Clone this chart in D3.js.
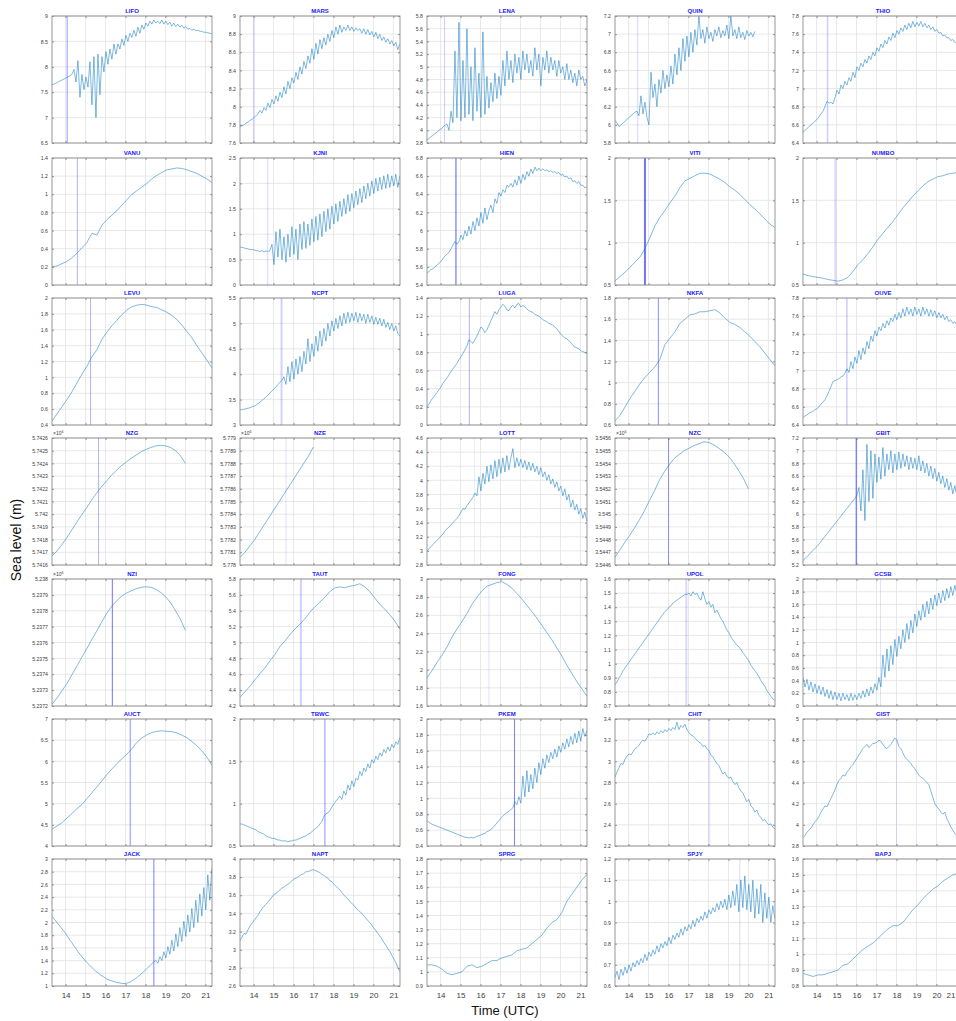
<!DOCTYPE html>
<html>
<head>
<meta charset="utf-8">
<script src="https://cdn.jsdelivr.net/npm/d3@7"></script>
<style>
  body { margin: 0; background: #fff; }
  svg { display: block; font-family: "Liberation Sans", Arial, sans-serif; }
</style>
</head>
<body>
<svg id="chart" width="956" height="1021"></svg>
<script>
/* Time axis (UTC hours) */
const startTime = 13.32;
const timeDomain = [13.32, 21.33];
const timeTicks = [14, 15, 16, 17, 18, 19, 20, 21];

/* Stations, in panel order (5 per row) */
const stations = [
  'LIFO', 'MARS', 'LENA', 'QUIN', 'THIO',
  'VANU', 'KJNI', 'HIEN', 'VITI', 'NUMBO',
  'LEVU', 'NCPT', 'LUGA', 'NKFA', 'OUVE',
  'NZG', 'NZE', 'LOTT', 'NZC', 'GBIT',
  'NZI', 'TAUT', 'FONG', 'UPOL', 'GCSB',
  'AUCT', 'TBWC', 'PKEM', 'CHIT', 'GIST',
  'JACK', 'NAPT', 'SPRG', 'SPJY', 'BAPJ'
];

/* Last sample time of each record */
const endTimes = [
  21.32, 21.32, 21.32, 20.32, 21.32,
  21.32, 21.32, 21.32, 21.32, 21.32,
  21.32, 21.32, 21.32, 21.32, 21.32,
  20.0, 17.0, 21.32, 20.0, 21.32,
  20.0, 21.32, 21.32, 21.32, 21.32,
  21.32, 21.32, 21.32, 21.32, 21.32,
  21.32, 21.32, 21.32, 21.32, 21.32
];

/* Y limits and tick spacing of each panel */
const yDomains = [
  [6.5, 9], [7.6, 9], [3.8, 5.8], [5.8, 7.2], [6.4, 7.8],
  [0, 1.4], [0, 2.5], [5.4, 6.8], [0.5, 2], [0.5, 2],
  [0.4, 2], [3, 5.5], [0, 1.4], [0.6, 1.8], [6.4, 7.8],
  [5741600, 5742600], [5778000, 5779000], [2.8, 4.6], [3544600, 3545600], [5.2, 7.2],
  [5237200, 5238000], [4.2, 5.8], [1.6, 3], [0.7, 1.6], [0, 2],
  [4, 7], [0.5, 2], [0.4, 2], [2.2, 3.4], [3.8, 5],
  [1, 3], [2.6, 4], [0.9, 1.8], [0.6, 1.2], [0.8, 1.6]
];
const yTickSteps = [
  0.5, 0.2, 0.2, 0.2, 0.2,
  0.2, 0.5, 0.2, 0.5, 0.5,
  0.2, 0.5, 0.2, 0.2, 0.2,
  100, 100, 0.2, 100, 0.2,
  100, 0.2, 0.2, 0.1, 0.2,
  0.5, 0.5, 0.2, 0.2, 0.2,
  0.2, 0.2, 0.1, 0.1, 0.1
];
const exponentStations = ['NZG', 'NZE', 'NZC', 'NZI'];

/* Arrival marker of each station (null = none) */
const markerTimes = [
  14.08, 14.02, 14.2, 14.45, 14.55,
  14.59, 14.7, 14.77, 14.82, 14.94,
  15.25, 15.4, 15.44, 15.49, 15.52,
  15.65, 15.62, 15.7, 16.0, 15.99,
  16.34, 16.37, 16.42, 16.89, 17.2,
  17.24, 17.57, 17.7, 18.04, 18.0,
  18.42, null, null, 19.57, null
];
const markerAlphas = [
  0.4, 0.15, 0.2, 0.12, 0.2,
  0.3, 0.12, 0.65, 0.55, 0.15,
  0.3, 0.18, 0.3, 0.45, 0.3,
  0.3, 0.12, 0.08, 0.4, 0.45,
  0.55, 0.18, 0.12, 0.15, 0.12,
  0.3, 0.3, 0.5, 0.1, 0.1,
  0.5, 0, 0, 0.15, 0
];
const markerWidths = [
  1, 1.5, 1, 1.5, 1.5,
  1, 1.5, 1, 2, 2,
  1, 2, 1, 1, 1,
  1, 1, 1, 1, 1.5,
  1, 2, 1, 2, 1,
  1.5, 1.5, 1, 2, 1,
  1, 1, 1, 1, 1
];

/* Sea level records (m), evenly spaced from startTime to endTime */
const LIFO = [7.65,7.66,7.68,7.70,7.72,7.74,7.76,7.78,7.80,7.82,
  7.85,7.95,7.70,8.12,7.40,7.85,7.55,7.80,7.60,8.10,
  7.25,8.20,7.00,8.25,7.45,8.20,7.90,8.30,8.05,8.35,
  8.15,8.45,8.25,8.45,8.35,8.55,8.42,8.62,8.50,8.66,
  8.58,8.72,8.60,8.78,8.66,8.82,8.74,8.86,8.80,8.90,
  8.84,8.92,8.86,8.90,8.85,8.92,8.84,8.90,8.83,8.88,
  8.80,8.86,8.79,8.84,8.78,8.82,8.76,8.79,8.74,8.76,
  8.72,8.74,8.71,8.72,8.70,8.70,8.68,8.68,8.67,8.66,8.65];
const MARS = [7.78,7.79,7.80,7.82,7.83,7.85,7.86,7.88,7.90,7.92,
  7.96,7.93,7.99,7.96,8.04,7.99,8.08,8.03,8.12,8.06,
  8.16,8.10,8.22,8.14,8.28,8.20,8.32,8.26,8.38,8.30,
  8.44,8.36,8.50,8.42,8.56,8.48,8.64,8.52,8.70,8.58,
  8.74,8.64,8.76,8.68,8.80,8.72,8.84,8.76,8.88,8.80,
  8.90,8.82,8.88,8.84,8.90,8.84,8.88,8.83,8.87,8.84,
  8.86,8.81,8.86,8.80,8.85,8.79,8.83,8.77,8.82,8.75,
  8.80,8.73,8.77,8.71,8.75,8.69,8.73,8.67,8.71,8.63,8.69];
const LENA = [3.85,3.87,3.90,3.92,3.95,3.97,4.00,4.02,4.05,4.08,
  4.10,4.00,4.30,4.12,5.25,4.20,5.70,4.15,5.10,4.20,
  5.60,4.25,5.00,4.15,5.30,4.30,4.90,4.20,5.55,4.25,
  4.85,4.35,4.75,4.45,4.90,4.50,4.85,4.55,5.10,4.70,
  5.25,4.80,5.10,4.75,5.20,4.90,5.15,4.80,5.25,4.95,
  5.20,4.90,5.10,4.85,5.30,4.95,5.20,4.70,5.15,4.95,
  5.25,4.90,5.15,4.95,5.10,4.85,5.10,4.90,5.00,4.80,
  5.05,4.80,4.95,4.75,4.90,4.70,4.95,4.80,4.85,4.70,4.78];
const QUIN = [6.05,6.02,5.98,6.00,6.02,6.04,6.06,6.08,6.10,6.12,
  6.14,6.15,6.10,6.32,6.12,6.25,6.08,6.00,6.58,6.30,
  6.45,6.20,6.50,6.35,6.60,6.40,6.55,6.42,6.65,6.45,
  6.78,6.55,6.85,6.60,6.95,6.70,6.98,6.75,7.02,6.80,
  7.05,6.88,7.20,6.95,7.05,6.90,7.08,6.95,7.02,6.92,
  7.05,6.98,7.08,6.96,7.04,6.98,7.10,6.95,7.20,6.98,
  7.05,6.95,7.08,6.96,7.02,6.94,7.04,6.98,7.02,6.97,7.03];
const THIO = [6.52,6.54,6.56,6.58,6.60,6.62,6.64,6.66,6.69,6.72,
  6.75,6.80,6.86,6.84,6.85,6.83,6.90,6.98,6.94,7.04,
  7.00,7.08,7.04,7.12,7.08,7.18,7.12,7.24,7.20,7.28,
  7.24,7.32,7.28,7.36,7.32,7.40,7.36,7.45,7.41,7.49,
  7.45,7.53,7.49,7.57,7.53,7.61,7.56,7.64,7.60,7.67,
  7.63,7.70,7.65,7.72,7.67,7.74,7.68,7.73,7.69,7.74,
  7.68,7.72,7.67,7.70,7.65,7.68,7.63,7.65,7.61,7.62,
  7.58,7.59,7.56,7.56,7.53,7.54,7.51,7.51,7.49,7.49,7.47];

const VANU = [0.20,0.21,0.235,0.26,0.30,0.35,0.41,0.47,0.57,0.55,
  0.66,0.72,0.77,0.82,0.88,0.94,1.00,1.04,1.08,1.12,
  1.17,1.21,1.24,1.27,1.28,1.29,1.285,1.27,1.25,1.23,1.20,1.17,1.13];
const KJNI = [0.75,0.74,0.73,0.72,0.71,0.70,0.70,0.69,0.68,0.67,
  0.66,0.68,0.65,0.67,0.66,0.68,0.80,0.40,1.05,0.55,
  1.10,0.50,0.95,0.45,1.00,0.55,1.15,0.60,1.10,0.50,
  1.20,0.70,1.25,0.72,1.20,0.78,1.30,0.85,1.35,0.88,
  1.40,0.95,1.45,1.05,1.50,1.10,1.55,1.20,1.60,1.25,
  1.65,1.35,1.70,1.40,1.78,1.45,1.80,1.52,1.85,1.58,
  1.90,1.62,1.95,1.70,2.00,1.75,2.05,1.80,2.10,1.85,
  2.12,1.88,2.15,1.90,2.18,1.92,2.15,1.95,2.18,1.92,2.15];
const HIEN = [5.53,5.55,5.57,5.58,5.60,5.62,5.64,5.66,5.69,5.72,
  5.74,5.76,5.80,5.84,5.88,5.85,5.88,5.95,5.90,6.00,
  5.94,6.05,5.96,6.10,6.00,6.14,6.05,6.20,6.08,6.25,
  6.12,6.22,6.28,6.20,6.35,6.30,6.42,6.38,6.45,6.42,
  6.50,6.48,6.52,6.48,6.56,6.50,6.60,6.52,6.62,6.56,
  6.65,6.60,6.68,6.63,6.70,6.66,6.69,6.66,6.68,6.66,
  6.67,6.65,6.66,6.64,6.65,6.63,6.64,6.61,6.62,6.59,
  6.60,6.57,6.58,6.54,6.55,6.52,6.54,6.50,6.50,6.47,6.48];
const VITI = [0.55,0.60,0.65,0.71,0.77,0.83,0.93,1.06,1.20,1.30,
  1.38,1.47,1.55,1.65,1.73,1.76,1.79,1.82,1.82,1.81,
  1.78,1.75,1.71,1.66,1.62,1.57,1.51,1.45,1.40,1.34,1.28,1.22,1.18];
const NUMBO = [0.63,0.61,0.60,0.59,0.58,0.565,0.555,0.545,0.56,0.59,
  0.66,0.74,0.80,0.87,0.95,1.04,1.11,1.18,1.25,1.33,
  1.41,1.48,1.55,1.61,1.67,1.72,1.75,1.78,1.79,1.81,1.82,1.83,1.83];

const LEVU = [0.45,0.54,0.63,0.72,0.82,0.93,1.04,1.14,1.26,1.35,
  1.48,1.57,1.65,1.72,1.79,1.85,1.89,1.91,1.92,1.91,
  1.89,1.88,1.85,1.82,1.78,1.73,1.66,1.58,1.50,1.40,1.31,1.22,1.12];
const NCPT = [3.30,3.30,3.31,3.32,3.33,3.34,3.36,3.37,3.39,3.42,
  3.45,3.48,3.52,3.55,3.59,3.63,3.67,3.71,3.75,3.80,
  3.84,3.88,3.95,3.80,4.15,3.85,4.25,3.90,4.30,4.00,
  4.35,4.05,4.45,4.20,4.70,4.25,4.60,4.35,4.75,4.45,
  4.85,4.55,4.90,4.65,5.00,4.75,5.05,4.85,5.10,4.90,
  5.15,4.95,5.20,5.00,5.22,5.02,5.20,5.05,5.22,5.02,
  5.20,5.05,5.18,5.00,5.18,5.02,5.15,4.98,5.12,4.98,
  5.10,4.95,5.08,4.92,5.02,4.88,5.00,4.85,4.95,4.80,4.75];
const LUGA = [0.20,0.23,0.27,0.30,0.33,0.36,0.39,0.42,0.46,0.49,
  0.52,0.55,0.59,0.62,0.65,0.68,0.72,0.75,0.79,0.83,
  0.87,0.94,0.92,0.90,0.94,0.98,1.03,1.08,1.06,1.02,
  1.05,1.10,1.15,1.20,1.25,1.22,1.27,1.30,1.33,1.31,
  1.27,1.26,1.30,1.32,1.29,1.33,1.34,1.30,1.32,1.30,
  1.28,1.26,1.25,1.24,1.22,1.21,1.20,1.18,1.16,1.15,
  1.14,1.12,1.11,1.10,1.08,1.06,1.03,1.00,0.98,0.96,
  0.95,0.93,0.91,0.88,0.86,0.85,0.84,0.82,0.81,0.80,0.80];
const NKFA = [0.64,0.69,0.77,0.85,0.92,0.99,1.05,1.10,1.15,1.22,
  1.36,1.42,1.48,1.56,1.60,1.64,1.65,1.67,1.67,1.68,
  1.69,1.66,1.61,1.57,1.55,1.52,1.48,1.44,1.39,1.34,1.28,1.22,1.16];
const OUVE = [6.48,6.50,6.51,6.53,6.54,6.55,6.57,6.58,6.60,6.63,
  6.65,6.68,6.72,6.77,6.82,6.88,6.89,6.90,6.91,6.93,
  6.94,6.97,7.02,6.98,7.10,7.02,7.15,7.08,7.22,7.12,
  7.25,7.18,7.32,7.24,7.38,7.32,7.44,7.38,7.48,7.44,
  7.52,7.47,7.55,7.50,7.58,7.54,7.62,7.56,7.64,7.58,
  7.68,7.60,7.70,7.62,7.68,7.60,7.70,7.62,7.68,7.60,
  7.70,7.62,7.68,7.60,7.67,7.60,7.66,7.58,7.64,7.58,
  7.62,7.56,7.60,7.54,7.56,7.52,7.54,7.50,7.50,7.48,7.48];

const NZG = [5741670,5741710,5741760,5741815,5741875,5741935,5741995,5742050,5742110,5742165,
  5742215,5742260,5742305,5742345,5742380,5742410,5742440,5742465,5742490,5742510,
  5742525,5742538,5742542,5742538,5742525,5742500,5742460,5742400];
const NZE = [5778060,5778100,5778150,5778200,5778260,5778320,5778380,5778440,
  5778500,5778560,5778620,5778680,5778740,5778800,5778860,5778930];
const LOTT = [3.00,3.03,3.06,3.09,3.12,3.15,3.18,3.21,3.24,3.28,
  3.31,3.34,3.37,3.40,3.43,3.46,3.50,3.55,3.60,3.59,
  3.64,3.68,3.72,3.76,3.82,3.78,4.05,3.85,4.10,3.95,
  4.20,3.98,4.22,4.02,4.28,4.05,4.30,4.10,4.32,4.12,
  4.35,4.15,4.32,4.45,4.18,4.32,4.20,4.30,4.18,4.28,
  4.15,4.26,4.14,4.24,4.12,4.20,4.08,4.18,4.05,4.12,
  4.00,4.08,3.95,4.02,3.90,3.98,3.85,3.92,3.78,3.88,
  3.72,3.80,3.62,3.72,3.58,3.66,3.52,3.60,3.46,3.55,3.42];
const NZC = [3544660,3544720,3544780,3544835,3544895,3544960,3545030,3545110,3545185,3545270,
  3545335,3545390,3545440,3545470,3545500,3545520,3545540,3545555,3545570,3545565,
  3545545,3545520,3545490,3545455,3545405,3545345,3545280,3545200];
const GBIT = [5.27,5.30,5.33,5.36,5.40,5.43,5.46,5.49,5.53,5.57,
  5.61,5.65,5.69,5.73,5.77,5.81,5.85,5.89,5.93,5.97,
  6.01,6.05,6.09,6.13,6.17,6.21,6.25,6.30,6.42,6.05,
  6.70,5.90,7.10,6.20,7.00,6.25,6.95,6.50,6.90,6.55,
  7.05,6.60,6.95,6.70,7.00,6.65,6.95,6.70,6.98,6.72,
  6.95,6.75,6.92,6.70,6.90,6.72,6.88,6.70,6.92,6.68,
  6.84,6.65,6.80,6.60,6.76,6.56,6.72,6.52,6.66,6.48,
  6.60,6.42,6.56,6.38,6.50,6.32,6.45,6.30,6.40,6.25,6.30];

const NZI = [5237210,5237250,5237295,5237340,5237395,5237450,5237505,5237560,5237615,5237670,
  5237725,5237780,5237825,5237860,5237890,5237910,5237925,5237938,5237947,5237951,
  5237948,5237935,5237915,5237888,5237850,5237800,5237745,5237676];
const TAUT = [4.31,4.38,4.45,4.53,4.61,4.68,4.77,4.85,4.95,5.02,
  5.10,5.17,5.23,5.30,5.38,5.45,5.51,5.57,5.64,5.69,
  5.70,5.69,5.71,5.72,5.74,5.70,5.64,5.56,5.48,5.42,5.35,5.27,5.17];
const FONG = [1.91,1.99,2.08,2.16,2.25,2.36,2.45,2.53,2.62,2.72,
  2.80,2.87,2.92,2.94,2.96,2.97,2.94,2.90,2.84,2.78,
  2.71,2.64,2.57,2.49,2.41,2.33,2.24,2.15,2.05,1.96,1.87,1.79,1.71];
const UPOL = [0.85,0.87,0.90,0.92,0.95,0.97,0.99,1.01,1.03,1.05,
  1.07,1.09,1.11,1.13,1.15,1.17,1.19,1.21,1.23,1.25,
  1.27,1.29,1.31,1.33,1.35,1.37,1.38,1.40,1.41,1.43,
  1.44,1.45,1.46,1.47,1.48,1.49,1.49,1.50,1.48,1.51,
  1.49,1.50,1.47,1.45,1.51,1.46,1.42,1.44,1.40,1.42,
  1.36,1.38,1.35,1.32,1.30,1.27,1.24,1.22,1.19,1.17,
  1.15,1.13,1.12,1.10,1.08,1.06,1.04,1.02,0.99,0.97,
  0.95,0.93,0.91,0.88,0.86,0.84,0.81,0.79,0.77,0.75,0.74];
const GCSB = [0.45,0.30,0.42,0.25,0.38,0.22,0.35,0.20,0.32,0.18,
  0.30,0.15,0.26,0.12,0.24,0.10,0.22,0.10,0.20,0.08,
  0.20,0.10,0.18,0.08,0.20,0.09,0.18,0.10,0.20,0.12,
  0.24,0.14,0.27,0.16,0.30,0.20,0.35,0.25,0.45,0.30,
  0.80,0.45,0.90,0.55,0.95,0.65,1.05,0.78,1.10,0.90,
  1.20,1.00,1.30,1.05,1.35,1.15,1.45,1.25,1.50,1.35,
  1.60,1.40,1.65,1.45,1.70,1.52,1.75,1.58,1.78,1.62,
  1.82,1.66,1.85,1.70,1.88,1.74,1.90,1.78,1.92,1.80,1.90];

const AUCT = [4.40,4.47,4.55,4.66,4.77,4.88,4.98,5.12,5.26,5.40,
  5.54,5.69,5.82,5.95,6.06,6.17,6.30,6.45,6.55,6.63,
  6.68,6.71,6.72,6.71,6.70,6.67,6.62,6.56,6.47,6.37,6.25,6.10,5.91];
const TBWC = [0.76,0.76,0.75,0.74,0.73,0.72,0.71,0.70,0.69,0.67,
  0.66,0.65,0.64,0.62,0.61,0.60,0.59,0.59,0.58,0.57,
  0.57,0.56,0.56,0.56,0.55,0.56,0.56,0.57,0.57,0.58,
  0.59,0.60,0.61,0.62,0.64,0.65,0.67,0.69,0.71,0.73,
  0.76,0.79,0.85,0.88,0.89,0.92,0.96,1.00,1.03,1.06,
  1.09,1.05,1.15,1.10,1.22,1.16,1.27,1.20,1.30,1.28,
  1.38,1.33,1.42,1.38,1.47,1.42,1.52,1.48,1.56,1.52,
  1.60,1.56,1.64,1.60,1.67,1.62,1.70,1.66,1.73,1.70,1.78];
const PKEM = [0.72,0.70,0.68,0.67,0.66,0.65,0.64,0.63,0.62,0.61,
  0.60,0.59,0.58,0.57,0.56,0.55,0.54,0.53,0.52,0.51,
  0.51,0.50,0.51,0.50,0.51,0.52,0.53,0.54,0.55,0.56,
  0.58,0.59,0.61,0.63,0.66,0.69,0.72,0.75,0.78,0.80,
  0.82,0.84,0.86,0.88,0.96,0.92,1.02,0.94,1.28,1.02,
  1.35,1.08,1.30,1.12,1.38,1.20,1.45,1.30,1.50,1.38,
  1.55,1.45,1.58,1.50,1.62,1.52,1.66,1.58,1.70,1.62,
  1.75,1.65,1.78,1.68,1.82,1.70,1.85,1.72,1.88,1.78,1.85];
const CHIT = [2.85,2.90,2.94,2.98,2.97,3.02,3.05,3.07,3.06,3.09,
  3.12,3.13,3.15,3.18,3.20,3.19,3.22,3.26,3.25,3.27,
  3.25,3.28,3.26,3.29,3.27,3.30,3.28,3.31,3.29,3.32,
  3.30,3.37,3.30,3.34,3.32,3.35,3.30,3.27,3.25,3.24,
  3.22,3.20,3.18,3.17,3.14,3.15,3.12,3.10,3.06,3.04,
  3.01,2.98,2.96,2.92,2.88,2.90,2.86,2.84,2.85,2.81,
  2.78,2.80,2.75,2.72,2.70,2.66,2.62,2.64,2.58,2.56,
  2.52,2.54,2.49,2.47,2.44,2.45,2.42,2.40,2.41,2.38,2.36];
const GIST = [3.88,3.90,3.93,3.95,3.97,4.00,4.03,4.05,4.08,4.12,
  4.15,4.18,4.17,4.21,4.25,4.29,4.33,4.38,4.42,4.44,
  4.47,4.46,4.50,4.52,4.55,4.57,4.60,4.63,4.66,4.69,
  4.72,4.74,4.76,4.73,4.75,4.77,4.77,4.78,4.80,4.79,
  4.76,4.73,4.72,4.74,4.76,4.79,4.82,4.80,4.74,4.72,
  4.68,4.64,4.62,4.60,4.58,4.55,4.53,4.50,4.47,4.45,
  4.44,4.42,4.40,4.38,4.32,4.26,4.20,4.17,4.15,4.12,
  4.10,4.12,4.06,4.02,3.98,3.95,3.92,3.90,3.88,3.87,3.86];

const JACK = [2.10,2.06,2.02,1.98,1.94,1.90,1.86,1.82,1.77,1.72,
  1.68,1.63,1.59,1.54,1.50,1.46,1.42,1.39,1.35,1.32,
  1.29,1.26,1.23,1.21,1.18,1.16,1.14,1.12,1.10,1.09,
  1.08,1.07,1.06,1.05,1.05,1.04,1.04,1.04,1.05,1.06,
  1.08,1.10,1.12,1.15,1.17,1.20,1.23,1.26,1.29,1.32,
  1.35,1.38,1.40,1.36,1.46,1.40,1.54,1.44,1.62,1.50,
  1.72,1.55,1.82,1.62,1.92,1.70,2.02,1.78,2.12,1.85,
  2.22,1.92,2.35,2.00,2.45,2.10,2.55,2.20,2.75,2.35,2.85];
const NAPT = [3.10,3.14,3.18,3.17,3.22,3.26,3.29,3.32,3.35,3.38,
  3.42,3.45,3.48,3.50,3.53,3.55,3.58,3.61,3.62,3.64,
  3.66,3.68,3.69,3.71,3.72,3.74,3.76,3.78,3.79,3.80,
  3.82,3.83,3.84,3.86,3.86,3.87,3.88,3.88,3.87,3.86,
  3.85,3.83,3.82,3.80,3.79,3.76,3.75,3.72,3.70,3.68,
  3.66,3.63,3.60,3.58,3.56,3.53,3.51,3.49,3.46,3.44,
  3.42,3.40,3.37,3.35,3.32,3.30,3.27,3.24,3.21,3.18,
  3.15,3.12,3.08,3.05,3.01,2.98,2.94,2.90,2.86,2.80,2.76];
const SPRG = [1.05,1.05,1.04,1.02,0.99,0.98,0.99,1.00,1.04,1.05,
  1.03,1.04,1.06,1.08,1.08,1.10,1.11,1.12,1.15,1.16,
  1.17,1.20,1.23,1.26,1.31,1.35,1.37,1.42,1.50,1.55,1.60,1.65,1.69];
const SPJY = [0.64,0.67,0.63,0.68,0.65,0.69,0.66,0.70,0.67,0.71,
  0.69,0.72,0.70,0.73,0.71,0.75,0.72,0.76,0.74,0.77,
  0.75,0.79,0.76,0.80,0.78,0.81,0.79,0.83,0.80,0.84,
  0.82,0.85,0.83,0.87,0.84,0.88,0.86,0.89,0.87,0.91,
  0.88,0.92,0.90,0.93,0.91,0.95,0.92,0.96,0.94,0.97,
  0.95,0.99,0.96,1.00,0.97,1.01,0.96,1.03,0.97,1.05,
  0.98,1.08,0.95,1.10,0.97,1.12,0.96,1.08,0.95,1.10,
  0.92,1.06,0.94,1.08,0.90,1.04,0.92,1.02,0.90,0.98,0.92];
const BAPJ = [0.88,0.87,0.86,0.87,0.87,0.88,0.89,0.90,0.93,0.94,
  0.97,1.00,1.03,1.05,1.07,1.10,1.13,1.16,1.18,1.18,
  1.20,1.24,1.28,1.31,1.35,1.38,1.41,1.43,1.46,1.48,1.50,1.51,1.53];

const levels = [
  LIFO, MARS, LENA, QUIN, THIO,
  VANU, KJNI, HIEN, VITI, NUMBO,
  LEVU, NCPT, LUGA, NKFA, OUVE,
  NZG, NZE, LOTT, NZC, GBIT,
  NZI, TAUT, FONG, UPOL, GCSB,
  AUCT, TBWC, PKEM, CHIT, GIST,
  JACK, NAPT, SPRG, SPJY, BAPJ
];

/* Layout of the 7 x 5 grid */
const colLefts = [52, 240, 427, 615, 803];
const rowTops = [16, 158, 298, 438, 579, 719, 859];
const plotW = 160;
const plotH = 127;
const pageW = 956;

let svg = d3.select('#chart');
let x = d3.scaleLinear().domain(timeDomain).range([0, plotW]);

/* Strip d3 axis defaults so our own styling applies */
function styleAxis(sel, fontSize) {
  sel.attr('font-size', null).attr('font-family', null);
  sel.select('.domain').remove();
  sel.selectAll('.tick line').attr('stroke', '#4d4d4d').attr('stroke-width', 0.6);
  sel.selectAll('.tick text')
      .attr('fill', '#404040')
      .style('font-size', fontSize + 'px');
}

stations.forEach((name, i) => {
  let col = i % 5;
  let row = Math.floor(i / 5);
  let [lo, hi] = yDomains[i];
  let step = yTickSteps[i];
  let yTicks = d3.range(lo, hi + step / 2, step).map(v => +v.toFixed(6));
  let scaled = exponentStations.includes(name);
  let fmt = scaled ? v => String(+(v / 1e6).toFixed(4)) : v => String(+v.toFixed(2));

  let y = d3.scaleLinear().domain(yDomains[i]).range([plotH, 0]);

  let g = svg.append('g')
      .attr('class', 'panel')
      .attr('transform', `translate(${colLefts[col]},${rowTops[row]})`);

  g.append('clipPath')
      .attr('id', `clip-${i}`)
    .append('rect')
      .attr('width', plotW)
      .attr('height', plotH);

  /* Grid lines */
  let grid = g.append('g').attr('class', 'grid');
  grid.selectAll('line.vx')
    .data(timeTicks)
    .join('line')
      .attr('class', 'vx')
      .attr('x1', d => x(d)).attr('x2', d => x(d))
      .attr('y1', 0).attr('y2', plotH)
      .attr('stroke', '#e2e2e2')
      .attr('stroke-width', 0.8);
  grid.selectAll('line.hy')
    .data(yTicks)
    .join('line')
      .attr('class', 'hy')
      .attr('x1', 0).attr('x2', plotW)
      .attr('y1', d => y(d)).attr('y2', d => y(d))
      .attr('stroke', '#e2e2e2')
      .attr('stroke-width', 0.8);

  /* Arrival marker */
  if (markerTimes[i] !== null) {
    g.append('line')
        .attr('class', 'marker')
        .attr('x1', x(markerTimes[i])).attr('x2', x(markerTimes[i]))
        .attr('y1', 0).attr('y2', plotH)
        .attr('stroke', '#0000ff')
        .attr('stroke-opacity', markerAlphas[i])
        .attr('stroke-width', markerWidths[i]);
  }

  /* Sea level record */
  let values = levels[i];
  let dt = (endTimes[i] - startTime) / (values.length - 1);
  let line = d3.line()
      .x((d, j) => x(startTime + j * dt))
      .y(d => y(d));
  g.append('path')
      .datum(values)
      .attr('class', 'record')
      .attr('clip-path', `url(#clip-${i})`)
      .attr('fill', 'none')
      .attr('stroke', '#0072bd')
      .attr('stroke-width', 0.5)
      .attr('stroke-linejoin', 'round')
      .attr('d', line);

  /* Axes: ticks inward on all four sides */
  let bottom = d3.axisBottom(x).tickValues(timeTicks).tickSize(-2).tickPadding(6)
      .tickFormat(row === 6 ? d3.format('d') : () => '');
  let bottomG = g.append('g')
      .attr('transform', `translate(0,${plotH})`)
      .call(bottom)
      .call(sel => styleAxis(sel, 8));
  // keep the last label of the right column inside the page
  bottomG.selectAll('.tick text')
      .filter(d => colLefts[col] + x(d) + 5 > pageW)
      .attr('text-anchor', 'end')
      .attr('x', d => pageW - 1 - (colLefts[col] + x(d)));
  g.append('g')
      .call(d3.axisTop(x).tickValues(timeTicks).tickSize(-2).tickFormat(() => ''))
      .call(sel => styleAxis(sel, 5));
  g.append('g')
      .call(d3.axisLeft(y).tickValues(yTicks).tickSize(-2).tickPadding(4).tickFormat(fmt))
      .call(sel => styleAxis(sel, 5.2));
  g.append('g')
      .attr('transform', `translate(${plotW},0)`)
      .call(d3.axisRight(y).tickValues(yTicks).tickSize(-2).tickFormat(() => ''))
      .call(sel => styleAxis(sel, 5));

  /* Box */
  g.append('rect')
      .attr('width', plotW)
      .attr('height', plotH)
      .attr('fill', 'none')
      .attr('stroke', '#8c8c8c')
      .attr('stroke-width', 0.9);

  /* Title */
  g.append('text')
      .attr('x', plotW / 2)
      .attr('y', -3)
      .attr('text-anchor', 'middle')
      .attr('fill', '#1a1aff')
      .style('font-size', '6px')
      .style('font-weight', 'bold')
      .text(name);

  /* Exponent label */
  if (scaled) {
    let ex = g.append('text')
        .attr('x', 1)
        .attr('y', -3)
        .attr('fill', '#404040')
        .style('font-size', '5px')
        .text('\u00d710');
    ex.append('tspan')
        .attr('dy', -2)
        .style('font-size', '3.6px')
        .text('6');
  }
});

/* Shared axis labels */
svg.append('text')
    .attr('transform', 'translate(21,540) rotate(-90)')
    .attr('text-anchor', 'middle')
    .attr('fill', '#111')
    .style('font-size', '14px')
    .text('Sea level (m)');

svg.append('text')
    .attr('x', 505)
    .attr('y', 1015)
    .attr('text-anchor', 'middle')
    .attr('fill', '#111')
    .style('font-size', '13px')
    .text('Time (UTC)');
</script>
</body>
</html>
